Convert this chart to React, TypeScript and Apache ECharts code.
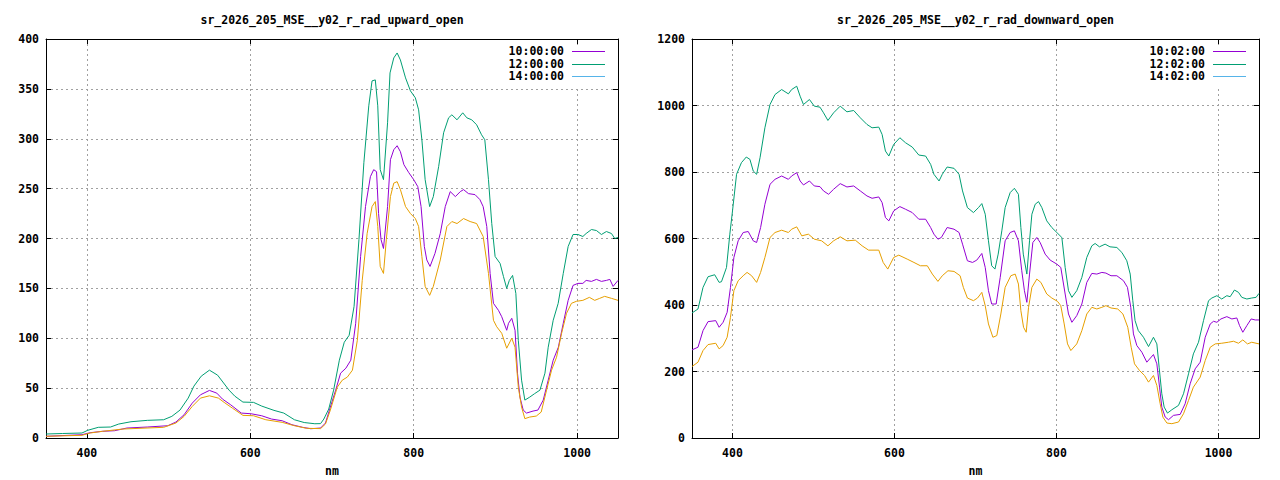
import React, { useEffect, useRef } from "react";
import * as echarts from "echarts";

const titleUp = "sr_2026_205_MSE__y02_r_rad_upward_open";
const titleDown = "sr_2026_205_MSE__y02_r_rad_downward_open";
const xTitle = "nm";
const legendUp = ["10:00:00", "12:00:00", "14:00:00"];
const legendDown = ["10:02:00", "12:02:00", "14:02:00"];
const legendColors = ["#9400d3", "#009e73", "#56b4e9"];
const lineColors = ["#9400d3", "#009e73", "#e69f00"];
const xTickValues = [400, 600, 800, 1000];

const up10: number[][] = [[350,1.7],[394,3.3],[404,5.3],[419,6.7],[434,7.3],[449,10],[474,11],[499,12.3],[509,16],[519,23.3],[529,35],[539,43.3],[550,47.7],[559,45],[566,39],[576,33.3],[589,25],[601,24.3],[614,22.3],[626,19],[639,17.3],[651,13.3],[664,10.7],[674,9.3],[686,10],[692,15],[698,31],[704.5,48],[710.5,65],[717,70],[723,78],[729,115],[735,182],[741,232],[747,262],[751,269],[754.5,267],[757,225],[760,199],[763,190],[768,232],[771.5,279],[775.6,289],[779.7,293],[783.7,287],[788,274],[794,266],[800,259],[805,252],[809,232],[813,192],[816,178.5],[820,172],[826,185],[832.5,205],[838.6,232],[844.7,247],[851,242],[857,247],[861,249],[867,245],[875,244],[881,239],[885,232],[889.4,212],[893.5,165],[897.6,135],[903.7,128],[907.7,121.6],[913.8,108],[916,115],[920,120],[924,108],[927,65],[930,41],[934,28],[938,25],[946,27],[952,28],[958.5,38],[964.6,58],[970.7,78],[977,91],[983,115],[989,138],[995,153],[1001,155],[1007,155],[1011,158],[1017.5,157],[1023.6,159],[1029.7,157],[1035.8,158],[1040,159],[1044,152],[1050,158]];

const up12: number[][] = [[350,4],[370,4.5],[394,5],[401,7.7],[414,10.7],[429,11],[439,14],[454,16.3],[474,17.7],[494,18.3],[504,21.7],[514,28],[524,40],[531,52],[540,62],[550,68],[560,63],[574,48],[581,42],[591,36],[604,35.7],[614,32],[629,27.7],[641,25],[654,18.3],[666,15.5],[679,14.3],[686,14.4],[690,19],[696,29],[702,48],[709,78],[715,96],[721,103],[727,132],[733,199],[739,276],[745,333],[749,358],[753,359],[756,333],[759,269],[763,259],[768,316],[771,366],[775.6,381],[779.7,386],[783.7,379],[790,361],[796,348],[802,341],[806,329],[810,299],[814,259],[819.5,232],[824,242],[830.5,272],[836.6,306],[842.7,321],[846.7,324],[853,319],[860,326],[865,321],[871,319],[877,314],[883,304],[887,299],[891.5,259],[895.5,215],[899.6,182],[905.7,175],[909.8,162],[913.8,150],[917,158],[921,163],[925,145],[928,98],[932,58],[936,38],[942,41],[948,44.5],[954.5,48],[960.6,65],[964.6,91],[970.7,118],[976.8,135],[983,165],[989,192],[995,204],[1001,204],[1007,202],[1011,205],[1017.5,209],[1023.6,208],[1029.7,204],[1035.8,207],[1042,205],[1046,200],[1050,201]];

const up14: number[][] = [[350,1.7],[394,2.7],[404,5],[419,6.7],[444,9],[494,10.7],[509,15],[519,21.7],[529,31.7],[539,40],[550,42.3],[561,40],[568,35.7],[578,30],[591,22.7],[604,22.3],[619,18.3],[639,15.7],[654,12.3],[669,9.7],[686,9.4],[692,14],[698,28],[706.5,51],[712.6,58],[718.7,61],[725,68],[731,98],[737,158],[743,205],[749,232],[753,237],[756,212],[759,172],[763,165],[766.5,199],[771.5,242],[775.6,255.5],[779.7,257],[783.7,249],[790,232],[796,225],[802,220],[806,212],[810,182],[814,152],[819.5,143],[824,152],[832.5,178.5],[840.6,212],[846.7,217],[853,215],[861,220],[869,217],[877,215],[885,202],[891.5,165],[897.6,118],[901.6,111.5],[907.7,105],[913.8,90],[920,100],[924,91],[928,51],[932,31],[936,19.4],[942,21],[950,22],[956,26],[962.6,48],[968.7,68],[974.8,81],[981,105],[987,125],[993,135],[999,137],[1007,138],[1015,141],[1021.5,138],[1027.6,140],[1033.7,142],[1042,140],[1050,138]];

const down10: number[][] = [[350,265],[357.4,273],[363.6,323],[369.8,350],[379.3,353],[383.5,333],[388.4,348],[393.4,378],[397.5,453],[401.7,543],[407,593],[413.2,618],[419.4,621],[425.6,593],[429.8,588],[434.7,633],[440,703],[446.3,763],[452.5,778],[460.7,788],[469,778],[473,788],[479.3,798],[483.5,773],[487.6,761],[495,773],[501,758],[508,756],[512.4,743],[518.6,733],[524.8,748],[533,765],[541.3,755],[549.6,758],[557.8,743],[566,728],[572.3,721],[580.6,725],[584.7,708],[588.8,663],[593,653],[599,683],[606.6,696],[613.6,688],[621.9,678],[630,658],[638.4,658],[644.6,633],[648.7,613],[653.6,598],[657.8,603],[665,633],[673.5,628],[679.7,618],[684,583],[690,533],[696.3,528],[701.6,535],[707.8,555],[712,513],[716,443],[720,403],[725.5,403],[730.5,483],[736.6,593],[742.8,618],[748,623],[753,593],[757.1,503],[760.4,443],[763.4,408],[766.7,493],[770.8,588],[775.7,603],[779.8,588],[786,553],[792.2,535],[800.4,523],[805.3,513],[810.7,433],[814.8,373],[819,348],[825,368],[831.3,403],[837.4,468],[843.6,495],[849.8,493],[856,498],[861,496],[867.3,488],[874.5,488],[882.7,473],[887.6,453],[891.7,393],[895,313],[899.2,278],[905.4,258],[911.5,228],[919.7,251],[923.9,223],[927.2,153],[930,93],[934.2,63],[938.3,55],[944.4,68],[952.7,71],[958.8,103],[965,163],[971.2,208],[977.4,228],[983.6,303],[989.8,343],[993.9,351],[998,348],[1003,358],[1010.3,365],[1016.5,358],[1022.6,361],[1026,338],[1030,318],[1035,338],[1040.3,358],[1045.3,355],[1050,355]];

const down12: number[][] = [[350,376],[357.4,388],[363.6,453],[369.8,485],[378,491],[383.5,468],[386.4,470],[392.6,513],[396.7,613],[400,683],[405,793],[411,828],[417,845],[421.5,838],[425.6,803],[429.8,793],[434,843],[440,933],[446.3,1003],[452.5,1033],[460.7,1048],[469,1035],[473,1048],[479.3,1058],[483.5,1028],[487.6,1003],[495,1018],[501,998],[508,995],[512.4,978],[517.8,955],[524.8,978],[533,998],[541.3,981],[549.6,985],[557.8,963],[566,943],[572.3,933],[580.6,935],[584.7,913],[588.8,863],[593,848],[599,883],[606.6,903],[613.6,888],[621.9,875],[630,851],[638.4,848],[644.6,823],[648.7,793],[655,773],[659,793],[665,815],[673.5,811],[679.7,793],[684,743],[690,693],[697.5,678],[703.7,693],[707.8,705],[712,673],[716,593],[720,518],[724,508],[728,553],[732.5,623],[736.6,693],[742.8,738],[748,751],[753,733],[756,633],[759,553],[763.4,493],[766.7,593],[769.6,673],[773.7,703],[777.8,711],[781.9,693],[788,653],[794.2,633],[800.4,618],[806.6,603],[810.7,513],[814.8,443],[819,423],[825,443],[831.3,483],[837.4,543],[843.6,578],[847.7,585],[853,575],[860,583],[866,575],[874.5,573],[880.7,558],[886.8,533],[891,493],[894.2,413],[897,353],[901,323],[907.4,303],[913.6,275],[919.7,303],[923.9,283],[926.7,213],[930,133],[932.9,93],[937,75],[942.4,85],[950.6,98],[956.8,133],[963,193],[969,253],[975.3,288],[981.5,353],[987.7,413],[991.8,421],[998,428],[1004,418],[1010.3,428],[1014.4,425],[1019.7,445],[1024.7,438],[1028.8,423],[1035,418],[1041,421],[1046.4,423],[1050,435]];

const down14: number[][] = [[350,215],[357.4,228],[363.6,263],[369.8,281],[379.3,285],[383.5,268],[388.4,278],[393.4,303],[397.5,363],[401.7,443],[407,473],[413.2,488],[418,498],[423.6,488],[429.8,468],[434.7,498],[440,543],[446.3,603],[452.5,618],[460.7,625],[469,618],[473,628],[479.3,635],[485.5,608],[493.7,613],[501,598],[510,593],[517.8,578],[524.8,593],[533,605],[541.3,593],[551.6,595],[560,578],[568,565],[580.6,565],[586,528],[591.7,508],[599,543],[605.3,550],[615.7,538],[624,528],[632,518],[640.5,518],[646.7,493],[653.6,471],[659,488],[666,503],[673.5,501],[681,488],[685,453],[690,421],[697.5,413],[702.5,421],[707.8,438],[712,398],[716,343],[721.5,303],[726.3,308],[731.3,373],[736.6,453],[743.6,488],[749,493],[753,463],[756,383],[759.3,333],[762.6,318],[765.5,393],[769.6,453],[775.7,478],[780.7,468],[788,433],[794.2,421],[801.2,411],[805.3,398],[809.5,343],[813.6,283],[817.7,263],[825,283],[831.3,323],[837.4,373],[843.6,393],[849.8,388],[856,393],[861,398],[867.3,391],[875.6,388],[882,373],[888,333],[892.2,273],[896.3,223],[902.5,203],[908.7,188],[913.6,168],[919.7,188],[923.9,158],[928,103],[931.3,63],[936.3,45],[942.4,43],[950.6,48],[956.8,73],[963,113],[969,153],[977.4,183],[983.6,233],[989.8,273],[996,283],[1004,285],[1012.3,288],[1018.5,291],[1024.7,285],[1030,295],[1035.8,283],[1041,288],[1050,283]];

const FONT_FAMILY = '"DejaVu Sans Mono", "Liberation Mono", monospace';
const FONT_SIZE = 11.5;
const FONT = `bold ${FONT_SIZE}px ${FONT_FAMILY}`;

const grids = [
  { left: 46, top: 39, width: 572, height: 399 },
  { left: 692, top: 39, width: 567, height: 399 },
];
const yMax = [400, 1200];
const yStep = [50, 200];

function App() {
  const ref = useRef<HTMLDivElement | null>(null);

  useEffect(() => {
    if (!ref.current) return;
    const chart = echarts.init(ref.current, undefined, { renderer: "svg" });

    const labelStyle = {
      fontFamily: FONT_FAMILY,
      fontWeight: "bold" as const,
      fontSize: FONT_SIZE,
      color: "#000",
    };
    const axisLine = { show: true, onZero: false, lineStyle: { color: "#000", width: 1 } };
    const tick = { show: true, inside: true, length: 5, lineStyle: { color: "#000", width: 1 } };
    const split = { show: true, lineStyle: { color: "#a0a0a0", type: [2, 3] as any, width: 1 } };

    const xAxes: any[] = [];
    const yAxes: any[] = [];
    [0, 1].forEach((g) => {
      const xBase = {
        type: "value",
        gridIndex: g,
        min: 350,
        max: 1050,
        splitNumber: 3,
        axisLine,
        axisTick: tick,
      };
      xAxes.push({
        ...xBase,
        position: "bottom",
        splitLine: split,
        axisLabel: {
          ...labelStyle,
          margin: 9,
          showMinLabel: false,
          showMaxLabel: false,
          formatter: (v: number) => (xTickValues.includes(v) ? String(v) : ""),
        },
      });
      xAxes.push({
        ...xBase,
        position: "top",
        splitLine: { show: false },
        axisLabel: { show: false },
      });
      const yBase = {
        type: "value",
        gridIndex: g,
        min: 0,
        max: yMax[g],
        interval: yStep[g],
        axisLine,
        axisTick: tick,
      };
      yAxes.push({
        ...yBase,
        position: "left",
        splitLine: split,
        axisLabel: { ...labelStyle, margin: 7, formatter: (v: number) => String(v) },
      });
      yAxes.push({
        ...yBase,
        position: "right",
        splitLine: { show: false },
        axisLabel: { show: false },
      });
    });

    const mk = (name: string, data: number[][], color: string, g: number) => ({
      type: "line",
      name,
      data,
      xAxisIndex: g * 2,
      yAxisIndex: g * 2,
      showSymbol: false,
      symbol: "none",
      smooth: false,
      lineStyle: { color, width: 1 },
      itemStyle: { color },
      z: 3,
    });

    const series = [
      mk(legendUp[0], up10, lineColors[0], 0),
      mk(legendUp[1], up12, lineColors[1], 0),
      mk(legendUp[2], up14, lineColors[2], 0),
      mk(legendDown[0], down10, lineColors[0], 1),
      mk(legendDown[1], down12, lineColors[1], 1),
      mk(legendDown[2], down14, lineColors[2], 1),
    ];

    const elements: any[] = [];
    const titles = [titleUp, titleDown];
    const legends = [legendUp, legendDown];
    grids.forEach((gr, g) => {
      const cx = gr.left + gr.width / 2;
      const right = gr.left + gr.width;
      elements.push({
        type: "text",
        x: cx,
        y: 20,
        style: { text: titles[g], font: FONT, fill: "#000", align: "center", verticalAlign: "middle" },
      });
      elements.push({
        type: "text",
        x: cx,
        y: 471,
        style: { text: xTitle, font: FONT, fill: "#000", align: "center", verticalAlign: "middle" },
      });
      elements.push({
        type: "rect",
        z: 1,
        shape: { x: right - 114, y: 45, width: 113, height: 41 },
        style: { fill: "#fff" },
      });
      legends[g].forEach((name, i) => {
        const y = 51 + i * 12.5;
        elements.push({
          type: "text",
          z: 2,
          x: right - 54,
          y,
          style: { text: name, font: FONT, fill: "#000", align: "right", verticalAlign: "middle" },
        });
        elements.push({
          type: "line",
          z: 2,
          shape: { x1: right - 46, y1: Math.round(y) + 0.5, x2: right - 13, y2: Math.round(y) + 0.5 },
          style: { stroke: legendColors[i], lineWidth: 1 },
        });
      });
    });

    chart.setOption({
      animation: false,
      backgroundColor: "#fff",
      grid: grids.map((g) => ({ ...g, containLabel: false })),
      xAxis: xAxes,
      yAxis: yAxes,
      series,
      graphic: { elements },
    });

    return () => chart.dispose();
  }, []);

  return (
    <div
      ref={ref}
      style={{ position: "absolute", left: 0, top: 0, width: 1280, height: 480, background: "#fff" }}
    />
  );
}

export default App;
